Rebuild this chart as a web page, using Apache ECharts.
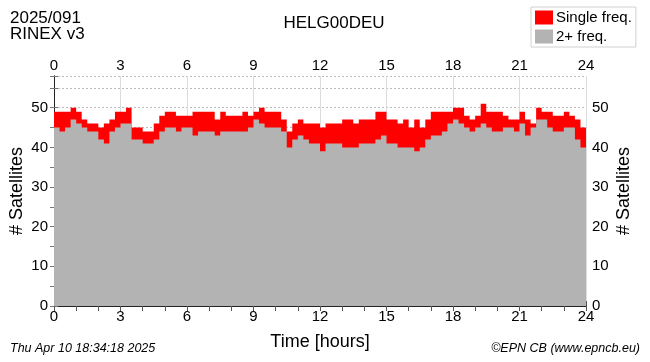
<!DOCTYPE html>
<html>
<head>
<meta charset="utf-8">
<script src="https://cdn.jsdelivr.net/npm/echarts@6.0.0/dist/echarts.min.js"></script>
<style>
  html, body { margin: 0; padding: 0; background: #fff; }
  #chart { width: 650px; height: 362px; }
</style>
</head>
<body>
<div id="chart"></div>
<script>
// one sample every 15 minutes, last one closes the day at 24h
const hourTicks = [0, 3, 6, 9, 12, 15, 18, 21, 24];
const satTicks = [0, 10, 20, 30, 40, 50];

// total satellites (single + multi frequency)
const totalSats = [
  49, 49, 49, 50, 49, 47, 46, 46, 45, 46, 47, 49, 49, 50, 45, 45,
  44, 44, 46, 48, 49, 49, 48, 48, 48, 49, 49, 49, 49, 47, 49, 48,
  48, 48, 49, 48, 49, 50, 49, 49, 49, 47, 44, 46, 47, 46, 46, 46,
  45, 46, 46, 46, 47, 47, 46, 47, 47, 47, 49, 49, 47, 47, 46, 47,
  45, 47, 45, 47, 49, 49, 49, 49, 50, 50, 48, 47, 48, 51, 49, 49,
  49, 48, 47, 47, 49, 47, 46, 50, 49, 49, 48, 48, 49, 48, 47, 45,
  48
];

// satellites tracked on 2+ frequencies
const dualSats = [
  45, 44, 45, 47, 46, 45, 44, 44, 42, 41, 44, 45, 46, 46, 42, 42,
  41, 41, 42, 44, 45, 45, 44, 45, 45, 43, 44, 44, 44, 43, 44, 44,
  44, 44, 44, 45, 47, 46, 45, 45, 45, 44, 40, 42, 43, 42, 41, 41,
  39, 41, 41, 41, 40, 40, 40, 41, 41, 41, 42, 43, 41, 41, 40, 40,
  40, 39, 40, 42, 43, 43, 44, 46, 47, 46, 45, 44, 45, 46, 45, 44,
  44, 45, 45, 44, 46, 43, 45, 47, 47, 45, 44, 44, 45, 45, 42, 40,
  45
];

const sampleHours = totalSats.map((v, i) => i * 0.25);

const FONT = 'Liberation Sans';

const chart = echarts.init(document.getElementById('chart'), null, { renderer: 'canvas' });

const xAxisBase = {
  type: 'value',
  min: 0,
  max: 24,
  interval: 3,
  axisLine: { show: true, lineStyle: { color: '#222', width: 1 } },
  axisTick: { show: true, inside: true, length: 5, lineStyle: { color: '#555' } },
  minorTick: { show: true, splitNumber: 3, length: 5, lineStyle: { color: '#555' } },
  axisLabel: {
    fontFamily: FONT, fontSize: 15, color: '#000', margin: 3,
    formatter: v => hourTicks.includes(v) ? String(v) : ''
  }
};

const yAxisBase = {
  type: 'value',
  min: 0,
  max: 58,
  interval: 5,
  axisLine: { show: true, lineStyle: { color: '#222', width: 1 } },
  axisTick: { show: true, inside: true, length: 4, lineStyle: { color: '#777' } },
  axisLabel: {
    fontFamily: FONT, fontSize: 15, color: '#000', margin: 6,
    formatter: v => satTicks.includes(v) ? String(v) : ''
  },
  name: '# Satellites',
  nameLocation: 'middle',
  nameRotate: 90,
  nameMoveOverlap: false,
  nameGap: 28,
  nameTextStyle: { fontFamily: FONT, fontSize: 18, color: '#000' }
};

const option = {
  animation: false,
  backgroundColor: '#fff',
  grid: { left: 54, right: 64, top: 76, bottom: 56, containLabel: false, outerBoundsMode: 'none' },
  title: [
    { text: 'HELG00DEU', left: 329, top: 10, textAlign: 'center',
      textStyle: { fontFamily: FONT, fontSize: 17, fontWeight: 'normal', color: '#000' } },
    { text: '2025/091', left: 10, top: 10, padding: 0,
      textStyle: { fontFamily: FONT, fontSize: 17, fontWeight: 'normal', color: '#000' } },
    { text: 'RINEX v3', left: 10, top: 26, padding: 0,
      textStyle: { fontFamily: FONT, fontSize: 17, fontWeight: 'normal', color: '#000' } },
    { text: 'Thu Apr 10 18:34:18 2025', left: 10, top: 342, padding: 0,
      textStyle: { fontFamily: FONT, fontSize: 12.5, fontStyle: 'italic', fontWeight: 'normal', color: '#000' } },
    { text: '\u00a9EPN CB (www.epncb.eu)', right: 10, top: 342, padding: 0,
      textStyle: { fontFamily: FONT, fontSize: 12.5, fontStyle: 'italic', fontWeight: 'normal', color: '#000' } }
  ],
  legend: {
    orient: 'vertical',
    left: 531,
    top: 7,
    icon: 'rect',
    itemWidth: 18,
    itemHeight: 14,
    itemGap: 4,
    padding: [3, 4, 3, 4],
    borderColor: '#d0d0d0',
    borderWidth: 1,
    backgroundColor: '#fff',
    textStyle: { fontFamily: FONT, fontSize: 15, color: '#000', padding: [0, 0, 0, -2] },
    data: ['Single freq.', '2+ freq.']
  },
  xAxis: [
    Object.assign({}, xAxisBase, {
      position: 'bottom',
      splitLine: { show: true, lineStyle: { color: '#dcdcdc', width: 1 } },
      name: 'Time [hours]',
      nameLocation: 'middle',
      nameGap: 27,
      nameTextStyle: { fontFamily: FONT, fontSize: 18, color: '#000' }
    }),
    Object.assign({}, xAxisBase, {
      position: 'top',
      splitLine: { show: false }
    })
  ],
  yAxis: [
    Object.assign({}, yAxisBase, {
      position: 'left',
      splitLine: { show: true, lineStyle: { color: '#bbb', type: [2, 2], width: 1 } }
    }),
    Object.assign({}, yAxisBase, {
      position: 'right',
      nameGap: 29,
      splitLine: { show: false }
    })
  ],
  series: [
    {
      name: 'Single freq.',
      type: 'line',
      step: 'end',
      xAxisIndex: 0,
      yAxisIndex: 0,
      symbol: 'none',
      itemStyle: { color: '#ff0000' },
      lineStyle: { width: 0 },
      areaStyle: { color: '#ff0000', opacity: 1 },
      data: sampleHours.map((h, i) => [h, totalSats[i]])
    },
    {
      name: '2+ freq.',
      type: 'line',
      step: 'end',
      xAxisIndex: 0,
      yAxisIndex: 0,
      symbol: 'none',
      itemStyle: { color: '#b3b3b3' },
      lineStyle: { width: 0 },
      areaStyle: { color: '#b3b3b3', opacity: 1 },
      data: sampleHours.map((h, i) => [h, dualSats[i]])
    }
  ]
};

chart.setOption(option);
</script>
</body>
</html>
